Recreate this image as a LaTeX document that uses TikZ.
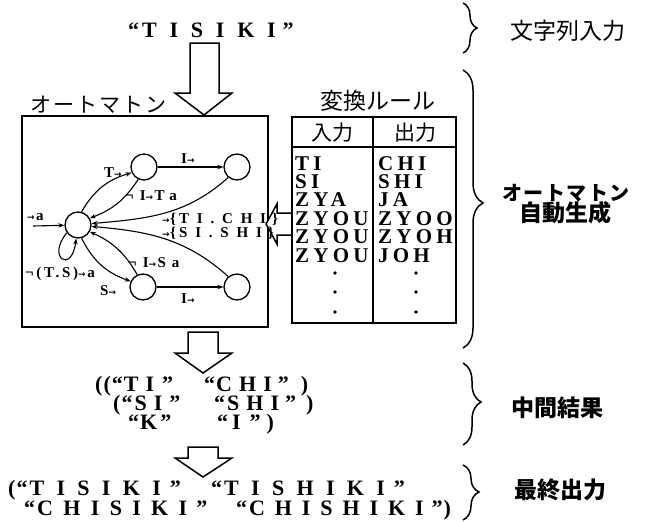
\documentclass[tikz,border=0pt]{standalone}
\usepackage{fontspec}
\setmainfont{Liberation Serif}
\newfontfamily\cjk{Noto Sans CJK JP}
\newfontfamily\djv{DejaVu Sans}
\usetikzlibrary{arrows.meta,decorations.pathreplacing}
\newcommand\LS[2]{\fontsize{#1}{#1}\selectfont\bfseries\addfontfeature{LetterSpace=#2}}
\newcommand\BF[1]{\fontsize{#1}{#1}\selectfont\bfseries}
\newcommand\lsp[2]{{\addfontfeature{LetterSpace=#1}#2}}
\newcommand\sar{{\djv\bfseries\fontsize{9}{9}\selectfont →}\kern1.5pt}
\newcommand\JP[1]{\cjk\fontsize{#1}{#1}\selectfont}
\tikzset{
  st/.style={circle, draw, line width=1.3pt, minimum size=26pt, inner sep=0pt},
  ed/.style={line width=1.1pt, -{Stealth[length=6pt,width=4.5pt]}},
  blk/.style={draw, fill=white, line width=1.5pt, line join=miter},
  tx/.style={inner sep=0pt, anchor=base west},
  lab/.style={inner sep=0pt, anchor=base west, font=\LS{15}{40}},
  br/.style={decorate, line width=1.5pt},
  jl/.style={inner sep=0pt, anchor=center},
}
\begin{document}
\begin{tikzpicture}[x=1pt,y=1pt]
\useasboundingbox (0,0) rectangle (648,-522);

% top input string
\node[tx, font=\BF{22}] (inp) at (128,-37) {“\kern3pt\lsp{58}{TISIKI}\kern7pt”};

% block arrow 1
\draw[blk] (190,-43) -- (190,-93) -- (175,-93) -- (204,-115) -- (232,-93) -- (219,-93) -- (219,-43) -- cycle;

% automaton box
\node[jl, font=\JP{21}\addfontfeature{LetterSpace=10}, anchor=west] (autl) at (30,-105) {オートマトン};
\draw[line width=2pt] (22,-116) rectangle (268,-327);

% states
\node[st] (q0) at (78,-225) {};
\node[st] (A) at (144,-167) {};
\node[st] (B) at (237,-167) {};
\node[st] (C) at (143,-287) {};
\node[st] (D) at (237,-287) {};

\coordinate (in) at (33,-226);
\draw[ed] (in) -- (q0);
\draw[ed] (q0.75) to[bend left=22] (A.205);
\draw[ed] (A.245) to[bend left=18] (q0.30);
\draw[ed] (q0.-75) to[bend right=22] (C.-205);
\draw[ed] (C.-245) to[bend right=18] (q0.-30);
\draw[ed] (A) -- (B);
\draw[ed] (C) -- (D);
\draw[ed] (B.230) to[out=222,in=5] (q0.6);
\draw[ed] (D.130) to[out=138,in=-5] (q0.-6);
\draw[ed] (q0.215) .. controls (46,-258) and (72,-274) .. (q0.262);

% automaton labels
\node[lab] (lT) at (104,-177) {T\sar};
\node[lab] (lI1) at (181,-163) {I\sar};
\node[lab] (lITa) at (125,-200) {¬I\sar Ta};
\node[lab] (la) at (27,-220) {\sar a};
\node[tx, font=\LS{15}{18}] (lTS) at (25,-277) {¬(T.S)\sar a};
\node[lab] (lISa) at (128,-267) {¬I\sar Sa};
\node[lab] (lS) at (100,-295) {S\sar};
\node[lab] (lI2) at (181,-303) {I\sar};

% left block arrow (table -> automaton)
\draw[blk] (292,-213) -- (277,-213) -- (277,-204) -- (266,-224) -- (277,-244) -- (277,-235) -- (292,-235) -- cycle;

\node[tx, font=\BF{15}] (lTI) at (162,-223) {\sar\kern-1pt\{\kern3pt\lsp{52}{TI.CHI}\kern6pt\}};
\node[tx, font=\BF{15}] (lSI) at (162,-237) {\sar\kern-1pt\{\kern3pt\lsp{52}{SI.SHI}\kern6pt\}};

% conversion rule table
\node[jl, font=\JP{23}] (rt) at (378,-101) {変換ルール};
\draw[line width=1.6pt] (292,-117) rectangle (456,-323);
\draw[line width=1.6pt] (292,-147) -- (456,-147);
\draw[line width=1.6pt] (373,-117) -- (373,-323);
\node[jl, font=\JP{21}] (h1) at (332,-133) {入力};
\node[jl, font=\JP{21}] (h2) at (415,-133) {出力};
\foreach \a/\b [count=\i from 0] in {TI/CHI, SI/SHI, ZYA/JA, ZYOU/ZYOO, ZYOU/ZYOH, ZYOU/JOH}{
  \node[tx, font=\LS{21}{20}] at (295,-170-18.4*\i) {\a};
  \node[tx, font=\LS{21}{20}] at (378,-170-18.4*\i) {\b};
}
\foreach \y in {273,292,312}{
  \fill (335,-\y) circle (1.8);
  \fill (416,-\y) circle (1.8);
}

% block arrow 2
\draw[blk] (188,-332) -- (188,-353) -- (175,-353) -- (203,-373) -- (232,-353) -- (218,-353) -- (218,-332) -- cycle;

% intermediate result
\node[tx, font=\BF{22}] (m1a) at (95,-391) {(\kern1pt(\kern1pt“\kern1pt\lsp{32}{TI}\kern8pt”};
\node[tx, font=\BF{22}] (m1b) at (204,-391) {“\kern1pt\lsp{32}{CHI}\kern6pt”\kern12pt)};
\node[tx, font=\BF{22}] (m2a) at (113,-410) {(\kern1pt“\kern2pt\lsp{32}{SI}\kern7pt”};
\node[tx, font=\BF{22}] (m2b) at (214,-410) {“\kern2pt\lsp{32}{SHI}\kern6pt”\kern10pt)};
\node[tx, font=\BF{22}] (m3a) at (128,-429) {“\kern1pt\lsp{32}{K}\kern3pt”};
\node[tx, font=\BF{22}] (m3b) at (217,-429) {“\kern4pt\lsp{32}{I}\kern9pt”\kern6pt)};

% block arrow 3
\draw[blk] (188,-447) -- (188,-458) -- (175,-458) -- (203,-477) -- (232,-458) -- (218,-458) -- (218,-447) -- cycle;

% final output
\node[tx, font=\BF{22}] (f1a) at (8,-495) {(\kern1pt“\kern2pt\lsp{56}{TISIKI}\kern9pt”};
\node[tx, font=\BF{22}] (f1b) at (211,-495) {“\kern2pt\lsp{56}{TISHIKI}\kern9pt”};
\node[tx, font=\BF{22}] (f2a) at (24,-515) {“\kern2pt\lsp{47}{CHISIKI}\kern9pt”};
\node[tx, font=\BF{22}] (f2b) at (236,-515) {“\kern2pt\lsp{45}{CHISHIKI}\kern8pt”\kern1pt)};

% braces and stage labels
\draw[br, decoration={brace, amplitude=14pt, aspect=0.5}] (463,-3) -- (463,-53);
\draw[br, decoration={brace, amplitude=20pt, aspect=0.478}] (463,-70) -- (463,-348);
\draw[br, decoration={brace, amplitude=18pt, aspect=0.476}] (463,-363) -- (463,-445);
\draw[br, decoration={brace, amplitude=16pt, aspect=0.49}] (463,-465) -- (463,-520);

\node[jl, font=\JP{23}] (s1) at (568,-31) {文字列入力};
\node[jl, font=\JP{20}\bfseries\addfontfeature{LetterSpace=8}] (s2a) at (566,-193) {オートマトン};
\node[jl, font=\JP{23}\bfseries] (s2b) at (565,-213) {自動生成};
\node[jl, font=\JP{23}\bfseries] (s3) at (557,-408) {中間結果};
\node[jl, font=\JP{23}\bfseries] (s4) at (560,-490) {最終出力};
\end{tikzpicture}
\end{document}
